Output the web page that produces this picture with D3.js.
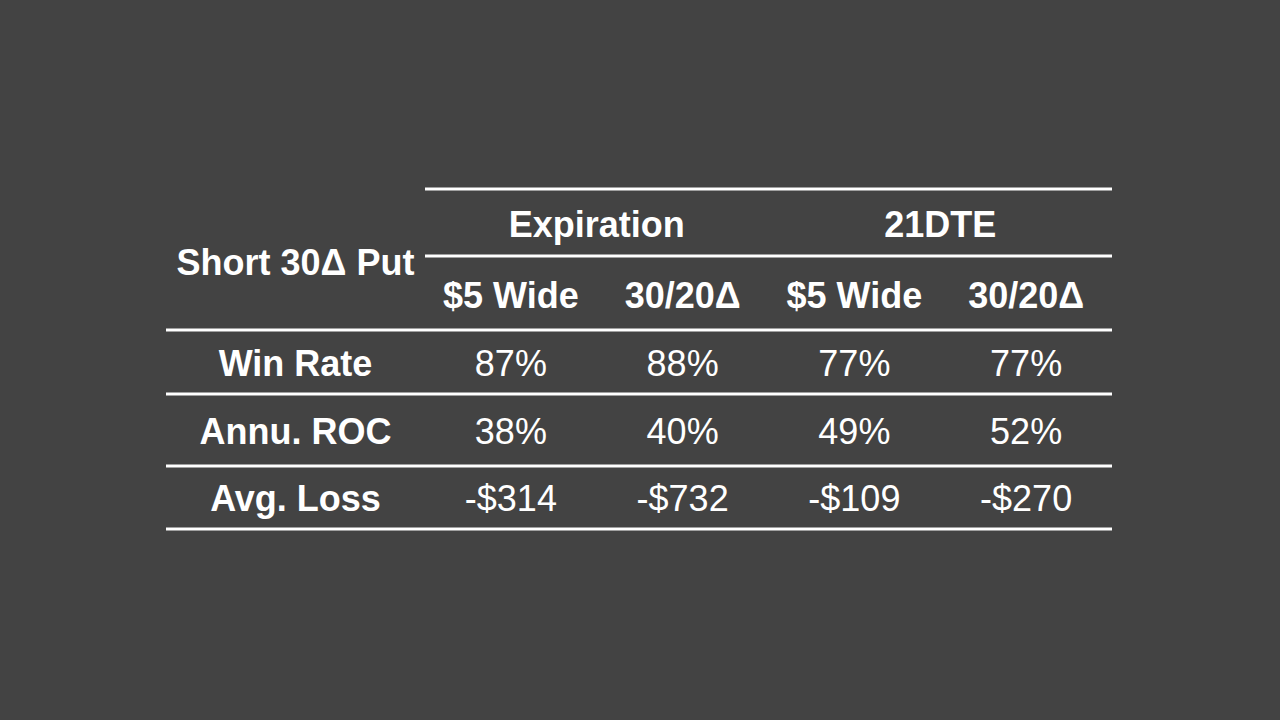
<!DOCTYPE html>
<html><head><meta charset="utf-8">
<script src="https://cdn.jsdelivr.net/npm/d3@7"></script>
<style>body{margin:0;background:#434343;}</style>
</head><body>
<svg id="c" width="1280" height="720"></svg>
<script>
const cornerLabel = "Short 30\u0394 Put";
const groups = ["Expiration", "21DTE"];
const columns = ["$5 Wide", "30/20\u0394", "$5 Wide", "30/20\u0394"];
const rowLabels = ["Win Rate", "Annu. ROC", "Avg. Loss"];
const winRate = ["87%", "88%", "77%", "77%"];
const annuROC = ["38%", "40%", "49%", "52%"];
const avgLoss = ["-$314", "-$732", "-$109", "-$270"];
const rows = [winRate, annuROC, avgLoss];

const svg = d3.select("#c");
svg.append("rect").attr("width",1280).attr("height",720).attr("fill","#434343");
const x = d3.scaleBand().domain(d3.range(columns.length)).range([425,1112]);
const gx = d3.scaleBand().domain(d3.range(groups.length)).range([425,1112]);
const font = "Liberation Sans, Arial, sans-serif";
const txt = (t, cx, cy, bold) => svg.append("text").attr("x",cx).attr("y",cy)
  .attr("text-anchor","middle").attr("dominant-baseline","central")
  .attr("fill","#fff").attr("font-family",font).attr("font-size",36)
  .attr("font-weight",bold?"bold":"normal").text(t);
const line = (x1,x2,y) => svg.append("line").attr("x1",x1).attr("x2",x2).attr("y1",y).attr("y2",y)
  .attr("stroke","#fff").attr("stroke-width",3);

line(425,1112,189); line(425,1112,256);
[330,394,466,529].forEach(y=>line(166,1112,y));

txt(cornerLabel, 295.5, 262, true);
groups.forEach((g,i)=>txt(g, gx(i)+gx.bandwidth()/2, 224, true));
columns.forEach((c,i)=>txt(c, x(i)+x.bandwidth()/2, 295, true));
const rowCenters = [363, 431, 498];
rows.forEach((r,j)=>{
  txt(rowLabels[j], 295.5, rowCenters[j], true);
  r.forEach((v,i)=>txt(v, x(i)+x.bandwidth()/2, rowCenters[j], false));
});
</script>
</body></html>
